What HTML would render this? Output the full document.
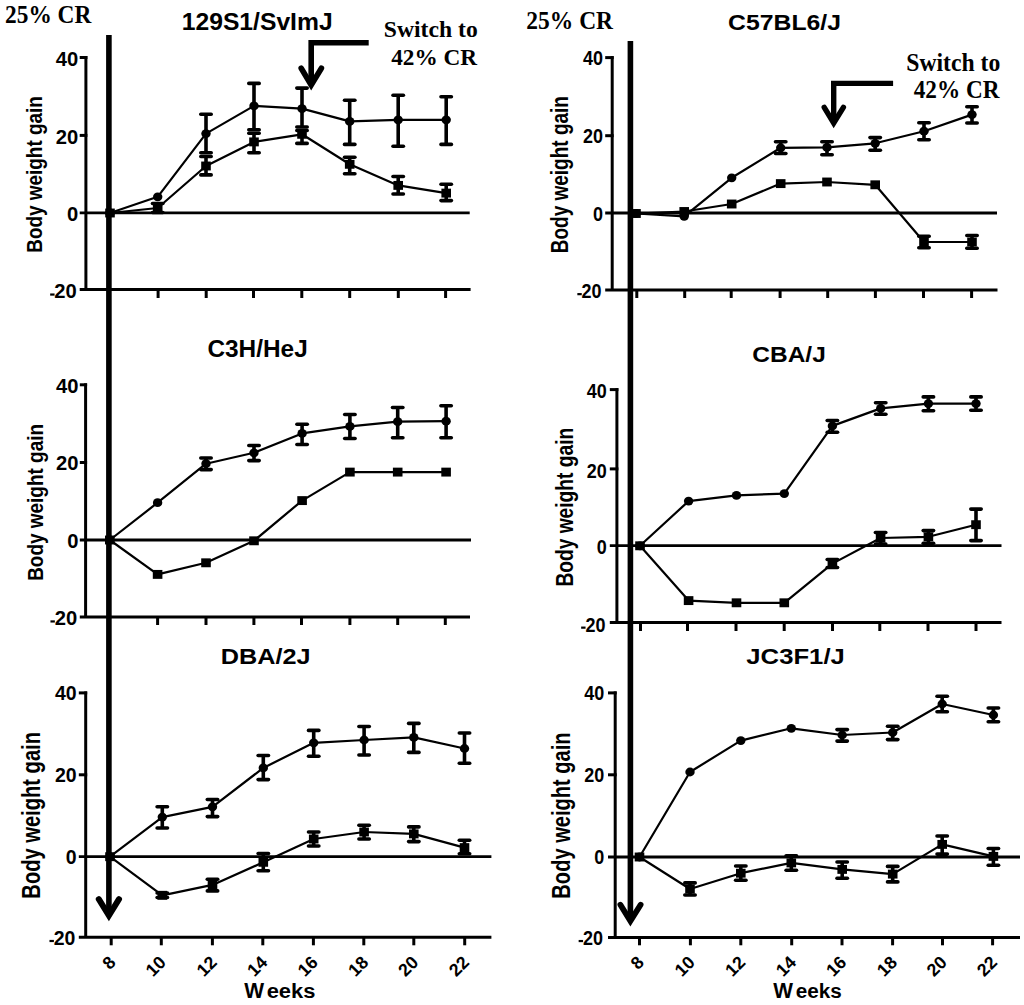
<!DOCTYPE html><html><head><meta charset="utf-8"><style>html,body{margin:0;padding:0;background:#fff;width:1024px;height:1005px;overflow:hidden}svg{display:block}text{font-size:100px;font-weight:bold;fill:#000;font-kerning:none;letter-spacing:0}.S{font-family:"Liberation Sans",sans-serif}.R{font-family:"Liberation Serif",serif}line,polyline,path{stroke:#000;fill:none}</style></head><body>
<svg width="1024" height="1005" viewBox="0 0 1024 1005">
<rect width="1024" height="1005" fill="#fff"/>
<line x1="85.9" y1="56" x2="85.9" y2="289.5" stroke-width="3"/>
<line x1="79.7" y1="57.5" x2="87.4" y2="57.5" stroke-width="3"/>
<line x1="79.7" y1="135.4" x2="87.4" y2="135.4" stroke-width="3"/>
<line x1="79.7" y1="212.9" x2="469.7" y2="212.9" stroke-width="2.8"/>
<line x1="79.7" y1="289.5" x2="470.6" y2="289.5" stroke-width="3"/>
<line x1="158.1" y1="289.5" x2="158.1" y2="298" stroke-width="3"/>
<line x1="206.2" y1="289.5" x2="206.2" y2="298" stroke-width="3"/>
<line x1="253.5" y1="289.5" x2="253.5" y2="298" stroke-width="3"/>
<line x1="301.8" y1="289.5" x2="301.8" y2="298" stroke-width="3"/>
<line x1="349.7" y1="289.5" x2="349.7" y2="298" stroke-width="3"/>
<line x1="398.3" y1="289.5" x2="398.3" y2="298" stroke-width="3"/>
<line x1="445.6" y1="289.5" x2="445.6" y2="298" stroke-width="3"/>
<text class="S" transform="translate(55.66 66.05) scale(0.2020 0.2020)">40</text>
<text class="S" transform="translate(55.66 143.95) scale(0.2020 0.2020)">20</text>
<text class="S" transform="translate(66.9 221.45) scale(0.2020 0.2020)">0</text>
<text class="S" transform="translate(54.36 298.45) scale(0.2020 0.2020)">20</text>
<rect x="50.16" y="293.45" width="4.4" height="2.2"/>
<polyline points="110,213 157.7,196.8 206,133.6 254,105.9 302,108.6 349.7,121.4 398.2,119.8 446.2,119.8" stroke-width="2.2" stroke-linejoin="round"/>
<polyline points="110,213 157.7,208 206,166 254,141.9 302,134.3 349.7,164.3 398.2,185.4 446.2,193.1" stroke-width="2.2" stroke-linejoin="round"/>
<line x1="206" y1="114.2" x2="206" y2="152.7" stroke-width="3.6"/>
<line x1="200.8" y1="114.2" x2="211.2" y2="114.2" stroke-width="3.6" stroke-linecap="round"/>
<line x1="200.8" y1="152.7" x2="211.2" y2="152.7" stroke-width="3.6" stroke-linecap="round"/>
<line x1="254" y1="83.4" x2="254" y2="129.8" stroke-width="3.6"/>
<line x1="248.8" y1="83.4" x2="259.2" y2="83.4" stroke-width="3.6" stroke-linecap="round"/>
<line x1="248.8" y1="129.8" x2="259.2" y2="129.8" stroke-width="3.6" stroke-linecap="round"/>
<line x1="302" y1="88.1" x2="302" y2="127" stroke-width="3.6"/>
<line x1="296.8" y1="88.1" x2="307.2" y2="88.1" stroke-width="3.6" stroke-linecap="round"/>
<line x1="296.8" y1="127" x2="307.2" y2="127" stroke-width="3.6" stroke-linecap="round"/>
<line x1="349.7" y1="100.3" x2="349.7" y2="144.4" stroke-width="3.6"/>
<line x1="344.5" y1="100.3" x2="354.9" y2="100.3" stroke-width="3.6" stroke-linecap="round"/>
<line x1="344.5" y1="144.4" x2="354.9" y2="144.4" stroke-width="3.6" stroke-linecap="round"/>
<line x1="398.2" y1="95.2" x2="398.2" y2="146.2" stroke-width="3.6"/>
<line x1="393" y1="95.2" x2="403.4" y2="95.2" stroke-width="3.6" stroke-linecap="round"/>
<line x1="393" y1="146.2" x2="403.4" y2="146.2" stroke-width="3.6" stroke-linecap="round"/>
<line x1="446.2" y1="96.8" x2="446.2" y2="144.4" stroke-width="3.6"/>
<line x1="441" y1="96.8" x2="451.4" y2="96.8" stroke-width="3.6" stroke-linecap="round"/>
<line x1="441" y1="144.4" x2="451.4" y2="144.4" stroke-width="3.6" stroke-linecap="round"/>
<line x1="157.7" y1="203.5" x2="157.7" y2="212.5" stroke-width="3.6"/>
<line x1="152.5" y1="203.5" x2="162.9" y2="203.5" stroke-width="3.6" stroke-linecap="round"/>
<line x1="152.5" y1="212.5" x2="162.9" y2="212.5" stroke-width="3.6" stroke-linecap="round"/>
<line x1="206" y1="156.5" x2="206" y2="174.9" stroke-width="3.6"/>
<line x1="200.8" y1="156.5" x2="211.2" y2="156.5" stroke-width="3.6" stroke-linecap="round"/>
<line x1="200.8" y1="174.9" x2="211.2" y2="174.9" stroke-width="3.6" stroke-linecap="round"/>
<line x1="254" y1="133.3" x2="254" y2="152.7" stroke-width="3.6"/>
<line x1="248.8" y1="133.3" x2="259.2" y2="133.3" stroke-width="3.6" stroke-linecap="round"/>
<line x1="248.8" y1="152.7" x2="259.2" y2="152.7" stroke-width="3.6" stroke-linecap="round"/>
<line x1="302" y1="130.5" x2="302" y2="143.4" stroke-width="3.6"/>
<line x1="296.8" y1="130.5" x2="307.2" y2="130.5" stroke-width="3.6" stroke-linecap="round"/>
<line x1="296.8" y1="143.4" x2="307.2" y2="143.4" stroke-width="3.6" stroke-linecap="round"/>
<line x1="349.7" y1="157.3" x2="349.7" y2="173.7" stroke-width="3.6"/>
<line x1="344.5" y1="157.3" x2="354.9" y2="157.3" stroke-width="3.6" stroke-linecap="round"/>
<line x1="344.5" y1="173.7" x2="354.9" y2="173.7" stroke-width="3.6" stroke-linecap="round"/>
<line x1="398.2" y1="176.5" x2="398.2" y2="194" stroke-width="3.6"/>
<line x1="393" y1="176.5" x2="403.4" y2="176.5" stroke-width="3.6" stroke-linecap="round"/>
<line x1="393" y1="194" x2="403.4" y2="194" stroke-width="3.6" stroke-linecap="round"/>
<line x1="446.2" y1="184.2" x2="446.2" y2="200.6" stroke-width="3.6"/>
<line x1="441" y1="184.2" x2="451.4" y2="184.2" stroke-width="3.6" stroke-linecap="round"/>
<line x1="441" y1="200.6" x2="451.4" y2="200.6" stroke-width="3.6" stroke-linecap="round"/>
<ellipse cx="110" cy="213" rx="4.7" ry="4.4"/>
<ellipse cx="157.7" cy="196.8" rx="4.7" ry="4.4"/>
<ellipse cx="206" cy="133.6" rx="4.7" ry="4.4"/>
<ellipse cx="254" cy="105.9" rx="4.7" ry="4.4"/>
<ellipse cx="302" cy="108.6" rx="4.7" ry="4.4"/>
<ellipse cx="349.7" cy="121.4" rx="4.7" ry="4.4"/>
<ellipse cx="398.2" cy="119.8" rx="4.7" ry="4.4"/>
<ellipse cx="446.2" cy="119.8" rx="4.7" ry="4.4"/>
<rect x="105.2" y="208.55" width="9.6" height="8.9"/>
<rect x="152.9" y="203.55" width="9.6" height="8.9"/>
<rect x="201.2" y="161.55" width="9.6" height="8.9"/>
<rect x="249.2" y="137.45" width="9.6" height="8.9"/>
<rect x="297.2" y="129.85" width="9.6" height="8.9"/>
<rect x="344.9" y="159.85" width="9.6" height="8.9"/>
<rect x="393.4" y="180.95" width="9.6" height="8.9"/>
<rect x="441.4" y="188.65" width="9.6" height="8.9"/>
<text class="S" transform="translate(181.75 30.21) scale(0.2468 0.2444)">129S1/SvImJ</text>
<text class="S" transform="translate(42.2 252.77) rotate(-90) scale(0.1894 0.2224)">Body weight gain</text>
<line x1="85.6" y1="383.3" x2="85.6" y2="617" stroke-width="3"/>
<line x1="79.8" y1="384.8" x2="87.1" y2="384.8" stroke-width="3"/>
<line x1="79.8" y1="462.5" x2="87.1" y2="462.5" stroke-width="3"/>
<line x1="79.8" y1="540" x2="471" y2="540" stroke-width="2.8"/>
<line x1="79.8" y1="617" x2="470" y2="617" stroke-width="3"/>
<line x1="157.6" y1="617" x2="157.6" y2="625" stroke-width="3"/>
<line x1="206" y1="617" x2="206" y2="625" stroke-width="3"/>
<line x1="253.9" y1="617" x2="253.9" y2="625" stroke-width="3"/>
<line x1="301.5" y1="617" x2="301.5" y2="625" stroke-width="3"/>
<line x1="349.9" y1="617" x2="349.9" y2="625" stroke-width="3"/>
<line x1="397.7" y1="617" x2="397.7" y2="625" stroke-width="3"/>
<line x1="445.3" y1="617" x2="445.3" y2="625" stroke-width="3"/>
<text class="S" transform="translate(55.96 392.75) scale(0.2020 0.2020)">40</text>
<text class="S" transform="translate(55.96 470.45) scale(0.2020 0.2020)">20</text>
<text class="S" transform="translate(67.2 547.95) scale(0.2020 0.2020)">0</text>
<text class="S" transform="translate(54.66 625.35) scale(0.2020 0.2020)">20</text>
<rect x="50.46" y="620.35" width="4.4" height="2.2"/>
<polyline points="109.8,540 157.6,502.7 206,463.7 254,452.8 302.1,433.4 349.9,426.4 397.7,421.7 446.1,421.2" stroke-width="2.2" stroke-linejoin="round"/>
<polyline points="109.8,540 157.6,574.4 206,562.8 254,540.8 302.1,500.6 349.9,472.1 397.7,472.1 446.1,472.1" stroke-width="2.2" stroke-linejoin="round"/>
<line x1="206" y1="458" x2="206" y2="469.6" stroke-width="3.6"/>
<line x1="200.8" y1="458" x2="211.2" y2="458" stroke-width="3.6" stroke-linecap="round"/>
<line x1="200.8" y1="469.6" x2="211.2" y2="469.6" stroke-width="3.6" stroke-linecap="round"/>
<line x1="254" y1="445.5" x2="254" y2="460.6" stroke-width="3.6"/>
<line x1="248.8" y1="445.5" x2="259.2" y2="445.5" stroke-width="3.6" stroke-linecap="round"/>
<line x1="248.8" y1="460.6" x2="259.2" y2="460.6" stroke-width="3.6" stroke-linecap="round"/>
<line x1="302.1" y1="424.3" x2="302.1" y2="444.5" stroke-width="3.6"/>
<line x1="296.9" y1="424.3" x2="307.3" y2="424.3" stroke-width="3.6" stroke-linecap="round"/>
<line x1="296.9" y1="444.5" x2="307.3" y2="444.5" stroke-width="3.6" stroke-linecap="round"/>
<line x1="349.9" y1="414.5" x2="349.9" y2="438.5" stroke-width="3.6"/>
<line x1="344.7" y1="414.5" x2="355.1" y2="414.5" stroke-width="3.6" stroke-linecap="round"/>
<line x1="344.7" y1="438.5" x2="355.1" y2="438.5" stroke-width="3.6" stroke-linecap="round"/>
<line x1="397.7" y1="407.5" x2="397.7" y2="437.8" stroke-width="3.6"/>
<line x1="392.5" y1="407.5" x2="402.9" y2="407.5" stroke-width="3.6" stroke-linecap="round"/>
<line x1="392.5" y1="437.8" x2="402.9" y2="437.8" stroke-width="3.6" stroke-linecap="round"/>
<line x1="446.1" y1="405.7" x2="446.1" y2="437.8" stroke-width="3.6"/>
<line x1="440.9" y1="405.7" x2="451.3" y2="405.7" stroke-width="3.6" stroke-linecap="round"/>
<line x1="440.9" y1="437.8" x2="451.3" y2="437.8" stroke-width="3.6" stroke-linecap="round"/>
<ellipse cx="109.8" cy="540" rx="4.7" ry="4.4"/>
<ellipse cx="157.6" cy="502.7" rx="4.7" ry="4.4"/>
<ellipse cx="206" cy="463.7" rx="4.7" ry="4.4"/>
<ellipse cx="254" cy="452.8" rx="4.7" ry="4.4"/>
<ellipse cx="302.1" cy="433.4" rx="4.7" ry="4.4"/>
<ellipse cx="349.9" cy="426.4" rx="4.7" ry="4.4"/>
<ellipse cx="397.7" cy="421.7" rx="4.7" ry="4.4"/>
<ellipse cx="446.1" cy="421.2" rx="4.7" ry="4.4"/>
<rect x="105" y="535.55" width="9.6" height="8.9"/>
<rect x="152.8" y="569.95" width="9.6" height="8.9"/>
<rect x="201.2" y="558.35" width="9.6" height="8.9"/>
<rect x="249.2" y="536.35" width="9.6" height="8.9"/>
<rect x="297.3" y="496.15" width="9.6" height="8.9"/>
<rect x="345.1" y="467.65" width="9.6" height="8.9"/>
<rect x="392.9" y="467.65" width="9.6" height="8.9"/>
<rect x="441.3" y="467.65" width="9.6" height="8.9"/>
<text class="S" transform="translate(207.4 357.04) scale(0.2440 0.2310)">C3H/HeJ</text>
<text class="S" transform="translate(42.9 580.87) rotate(-90) scale(0.1898 0.2297)">Body weight gain</text>
<line x1="85.7" y1="691.4" x2="85.7" y2="937.3" stroke-width="3"/>
<line x1="78.8" y1="692.9" x2="87.2" y2="692.9" stroke-width="3"/>
<line x1="78.8" y1="774.8" x2="87.2" y2="774.8" stroke-width="3"/>
<line x1="78.8" y1="856.7" x2="491.4" y2="856.7" stroke-width="2.8"/>
<line x1="78.8" y1="937.3" x2="491.4" y2="937.3" stroke-width="3"/>
<line x1="111.2" y1="937.3" x2="111.2" y2="945.3" stroke-width="3"/>
<line x1="161.3" y1="937.3" x2="161.3" y2="945.3" stroke-width="3"/>
<line x1="212.4" y1="937.3" x2="212.4" y2="945.3" stroke-width="3"/>
<line x1="262.8" y1="937.3" x2="262.8" y2="945.3" stroke-width="3"/>
<line x1="313.4" y1="937.3" x2="313.4" y2="945.3" stroke-width="3"/>
<line x1="363.8" y1="937.3" x2="363.8" y2="945.3" stroke-width="3"/>
<line x1="413.8" y1="937.3" x2="413.8" y2="945.3" stroke-width="3"/>
<line x1="464.7" y1="937.3" x2="464.7" y2="945.3" stroke-width="3"/>
<text class="S" transform="translate(55.02 700.11) scale(0.1949 0.1949)">40</text>
<text class="S" transform="translate(55.02 782.01) scale(0.1949 0.1949)">20</text>
<text class="S" transform="translate(65.86 863.91) scale(0.1949 0.1949)">0</text>
<text class="S" transform="translate(53.72 944.91) scale(0.1949 0.1949)">20</text>
<rect x="49.49" y="939.9" width="4.4" height="2.2"/>
<polyline points="110,856.7 162.3,817.1 212.5,806.8 263.3,767.9 313.7,742.8 364.1,740 413.8,737.4 464.5,748.5" stroke-width="2.2" stroke-linejoin="round"/>
<polyline points="110,856.7 162.3,895.3 212.5,884.9 263.3,862.3 313.7,839 364.1,832 413.8,833.9 464.5,847.6" stroke-width="2.2" stroke-linejoin="round"/>
<line x1="162.3" y1="806.8" x2="162.3" y2="828" stroke-width="3.6"/>
<line x1="157.1" y1="806.8" x2="167.5" y2="806.8" stroke-width="3.6" stroke-linecap="round"/>
<line x1="157.1" y1="828" x2="167.5" y2="828" stroke-width="3.6" stroke-linecap="round"/>
<line x1="212.5" y1="799.5" x2="212.5" y2="816.6" stroke-width="3.6"/>
<line x1="207.3" y1="799.5" x2="217.7" y2="799.5" stroke-width="3.6" stroke-linecap="round"/>
<line x1="207.3" y1="816.6" x2="217.7" y2="816.6" stroke-width="3.6" stroke-linecap="round"/>
<line x1="263.3" y1="755.5" x2="263.3" y2="779.6" stroke-width="3.6"/>
<line x1="258.1" y1="755.5" x2="268.5" y2="755.5" stroke-width="3.6" stroke-linecap="round"/>
<line x1="258.1" y1="779.6" x2="268.5" y2="779.6" stroke-width="3.6" stroke-linecap="round"/>
<line x1="313.7" y1="730.4" x2="313.7" y2="756.3" stroke-width="3.6"/>
<line x1="308.5" y1="730.4" x2="318.9" y2="730.4" stroke-width="3.6" stroke-linecap="round"/>
<line x1="308.5" y1="756.3" x2="318.9" y2="756.3" stroke-width="3.6" stroke-linecap="round"/>
<line x1="364.1" y1="726.5" x2="364.1" y2="755" stroke-width="3.6"/>
<line x1="358.9" y1="726.5" x2="369.3" y2="726.5" stroke-width="3.6" stroke-linecap="round"/>
<line x1="358.9" y1="755" x2="369.3" y2="755" stroke-width="3.6" stroke-linecap="round"/>
<line x1="413.8" y1="723.4" x2="413.8" y2="752.4" stroke-width="3.6"/>
<line x1="408.6" y1="723.4" x2="419" y2="723.4" stroke-width="3.6" stroke-linecap="round"/>
<line x1="408.6" y1="752.4" x2="419" y2="752.4" stroke-width="3.6" stroke-linecap="round"/>
<line x1="464.5" y1="733" x2="464.5" y2="763.3" stroke-width="3.6"/>
<line x1="459.3" y1="733" x2="469.7" y2="733" stroke-width="3.6" stroke-linecap="round"/>
<line x1="459.3" y1="763.3" x2="469.7" y2="763.3" stroke-width="3.6" stroke-linecap="round"/>
<line x1="162.3" y1="893" x2="162.3" y2="897.5" stroke-width="3.6"/>
<line x1="157.1" y1="893" x2="167.5" y2="893" stroke-width="3.6" stroke-linecap="round"/>
<line x1="157.1" y1="897.5" x2="167.5" y2="897.5" stroke-width="3.6" stroke-linecap="round"/>
<line x1="212.5" y1="879.2" x2="212.5" y2="890.9" stroke-width="3.6"/>
<line x1="207.3" y1="879.2" x2="217.7" y2="879.2" stroke-width="3.6" stroke-linecap="round"/>
<line x1="207.3" y1="890.9" x2="217.7" y2="890.9" stroke-width="3.6" stroke-linecap="round"/>
<line x1="263.3" y1="853.5" x2="263.3" y2="870.8" stroke-width="3.6"/>
<line x1="258.1" y1="853.5" x2="268.5" y2="853.5" stroke-width="3.6" stroke-linecap="round"/>
<line x1="258.1" y1="870.8" x2="268.5" y2="870.8" stroke-width="3.6" stroke-linecap="round"/>
<line x1="313.7" y1="832" x2="313.7" y2="846" stroke-width="3.6"/>
<line x1="308.5" y1="832" x2="318.9" y2="832" stroke-width="3.6" stroke-linecap="round"/>
<line x1="308.5" y1="846" x2="318.9" y2="846" stroke-width="3.6" stroke-linecap="round"/>
<line x1="364.1" y1="825.3" x2="364.1" y2="839" stroke-width="3.6"/>
<line x1="358.9" y1="825.3" x2="369.3" y2="825.3" stroke-width="3.6" stroke-linecap="round"/>
<line x1="358.9" y1="839" x2="369.3" y2="839" stroke-width="3.6" stroke-linecap="round"/>
<line x1="413.8" y1="826.9" x2="413.8" y2="841.6" stroke-width="3.6"/>
<line x1="408.6" y1="826.9" x2="419" y2="826.9" stroke-width="3.6" stroke-linecap="round"/>
<line x1="408.6" y1="841.6" x2="419" y2="841.6" stroke-width="3.6" stroke-linecap="round"/>
<line x1="464.5" y1="840.3" x2="464.5" y2="853.8" stroke-width="3.6"/>
<line x1="459.3" y1="840.3" x2="469.7" y2="840.3" stroke-width="3.6" stroke-linecap="round"/>
<line x1="459.3" y1="853.8" x2="469.7" y2="853.8" stroke-width="3.6" stroke-linecap="round"/>
<ellipse cx="110" cy="856.7" rx="4.7" ry="4.4"/>
<ellipse cx="162.3" cy="817.1" rx="4.7" ry="4.4"/>
<ellipse cx="212.5" cy="806.8" rx="4.7" ry="4.4"/>
<ellipse cx="263.3" cy="767.9" rx="4.7" ry="4.4"/>
<ellipse cx="313.7" cy="742.8" rx="4.7" ry="4.4"/>
<ellipse cx="364.1" cy="740" rx="4.7" ry="4.4"/>
<ellipse cx="413.8" cy="737.4" rx="4.7" ry="4.4"/>
<ellipse cx="464.5" cy="748.5" rx="4.7" ry="4.4"/>
<rect x="105.2" y="852.25" width="9.6" height="8.9"/>
<rect x="157.5" y="890.85" width="9.6" height="8.9"/>
<rect x="207.7" y="880.45" width="9.6" height="8.9"/>
<rect x="258.5" y="857.85" width="9.6" height="8.9"/>
<rect x="308.9" y="834.55" width="9.6" height="8.9"/>
<rect x="359.3" y="827.55" width="9.6" height="8.9"/>
<rect x="409" y="829.45" width="9.6" height="8.9"/>
<rect x="459.7" y="843.15" width="9.6" height="8.9"/>
<text class="S" transform="translate(220.71 663.65) scale(0.2525 0.2270)">DBA/2J</text>
<text class="S" transform="translate(40.4 898.65) rotate(-90) scale(0.2014 0.2573)">Body weight gain</text>
<line x1="612.2" y1="56.1" x2="612.2" y2="290" stroke-width="3"/>
<line x1="605.2" y1="57.6" x2="613.7" y2="57.6" stroke-width="3"/>
<line x1="605.2" y1="135.7" x2="613.7" y2="135.7" stroke-width="3"/>
<line x1="605.2" y1="213" x2="997" y2="213" stroke-width="2.8"/>
<line x1="605.2" y1="290" x2="997.5" y2="290" stroke-width="3"/>
<line x1="636.8" y1="290" x2="636.8" y2="298" stroke-width="3"/>
<line x1="684.7" y1="290" x2="684.7" y2="298" stroke-width="3"/>
<line x1="731.2" y1="290" x2="731.2" y2="298" stroke-width="3"/>
<line x1="780.1" y1="290" x2="780.1" y2="298" stroke-width="3"/>
<line x1="827.7" y1="290" x2="827.7" y2="298" stroke-width="3"/>
<line x1="875.4" y1="290" x2="875.4" y2="298" stroke-width="3"/>
<line x1="923.5" y1="290" x2="923.5" y2="298" stroke-width="3"/>
<line x1="971.6" y1="290" x2="971.6" y2="298" stroke-width="3"/>
<text class="S" transform="translate(582.92 65.26) scale(0.1800 0.1935)">40</text>
<text class="S" transform="translate(582.92 143.36) scale(0.1800 0.1935)">20</text>
<text class="S" transform="translate(592.93 220.66) scale(0.1800 0.1935)">0</text>
<text class="S" transform="translate(581.62 298.06) scale(0.1800 0.1935)">20</text>
<rect x="577.35" y="293.05" width="4.4" height="2.2"/>
<polyline points="636,213.5 684.2,216.3 731.7,177.8 780.7,147.8 827,147.4 875.2,143.3 924,131.2 972,114.6" stroke-width="2.2" stroke-linejoin="round"/>
<polyline points="636,213.5 684.2,211.5 731.7,204 780.7,183.6 827,182 875.2,184.8 924,242 972,242" stroke-width="2.2" stroke-linejoin="round"/>
<line x1="780.7" y1="141.8" x2="780.7" y2="153.5" stroke-width="3.6"/>
<line x1="775.5" y1="141.8" x2="785.9" y2="141.8" stroke-width="3.6" stroke-linecap="round"/>
<line x1="775.5" y1="153.5" x2="785.9" y2="153.5" stroke-width="3.6" stroke-linecap="round"/>
<line x1="827" y1="141.8" x2="827" y2="154.7" stroke-width="3.6"/>
<line x1="821.8" y1="141.8" x2="832.2" y2="141.8" stroke-width="3.6" stroke-linecap="round"/>
<line x1="821.8" y1="154.7" x2="832.2" y2="154.7" stroke-width="3.6" stroke-linecap="round"/>
<line x1="875.2" y1="137.6" x2="875.2" y2="150.2" stroke-width="3.6"/>
<line x1="870" y1="137.6" x2="880.4" y2="137.6" stroke-width="3.6" stroke-linecap="round"/>
<line x1="870" y1="150.2" x2="880.4" y2="150.2" stroke-width="3.6" stroke-linecap="round"/>
<line x1="924" y1="122.7" x2="924" y2="139.8" stroke-width="3.6"/>
<line x1="918.8" y1="122.7" x2="929.2" y2="122.7" stroke-width="3.6" stroke-linecap="round"/>
<line x1="918.8" y1="139.8" x2="929.2" y2="139.8" stroke-width="3.6" stroke-linecap="round"/>
<line x1="972" y1="106.7" x2="972" y2="123" stroke-width="3.6"/>
<line x1="966.8" y1="106.7" x2="977.2" y2="106.7" stroke-width="3.6" stroke-linecap="round"/>
<line x1="966.8" y1="123" x2="977.2" y2="123" stroke-width="3.6" stroke-linecap="round"/>
<line x1="924" y1="236.3" x2="924" y2="247.7" stroke-width="3.6"/>
<line x1="918.8" y1="236.3" x2="929.2" y2="236.3" stroke-width="3.6" stroke-linecap="round"/>
<line x1="918.8" y1="247.7" x2="929.2" y2="247.7" stroke-width="3.6" stroke-linecap="round"/>
<line x1="972" y1="235.5" x2="972" y2="248.3" stroke-width="3.6"/>
<line x1="966.8" y1="235.5" x2="977.2" y2="235.5" stroke-width="3.6" stroke-linecap="round"/>
<line x1="966.8" y1="248.3" x2="977.2" y2="248.3" stroke-width="3.6" stroke-linecap="round"/>
<ellipse cx="636" cy="213.5" rx="4.7" ry="4.4"/>
<ellipse cx="684.2" cy="216.3" rx="4.7" ry="4.4"/>
<ellipse cx="731.7" cy="177.8" rx="4.7" ry="4.4"/>
<ellipse cx="780.7" cy="147.8" rx="4.7" ry="4.4"/>
<ellipse cx="827" cy="147.4" rx="4.7" ry="4.4"/>
<ellipse cx="875.2" cy="143.3" rx="4.7" ry="4.4"/>
<ellipse cx="924" cy="131.2" rx="4.7" ry="4.4"/>
<ellipse cx="972" cy="114.6" rx="4.7" ry="4.4"/>
<rect x="631.2" y="209.05" width="9.6" height="8.9"/>
<rect x="679.4" y="207.05" width="9.6" height="8.9"/>
<rect x="726.9" y="199.55" width="9.6" height="8.9"/>
<rect x="775.9" y="179.15" width="9.6" height="8.9"/>
<rect x="822.2" y="177.55" width="9.6" height="8.9"/>
<rect x="870.4" y="180.35" width="9.6" height="8.9"/>
<rect x="919.2" y="237.55" width="9.6" height="8.9"/>
<rect x="967.2" y="237.55" width="9.6" height="8.9"/>
<text class="S" transform="translate(728.08 29.94) scale(0.2477 0.2296)">C57BL6/J</text>
<text class="S" transform="translate(568.4 253.27) rotate(-90) scale(0.1900 0.2384)">Body weight gain</text>
<line x1="616.9" y1="388.1" x2="616.9" y2="622.5" stroke-width="3"/>
<line x1="609.8" y1="389.6" x2="618.4" y2="389.6" stroke-width="3"/>
<line x1="609.8" y1="468.9" x2="618.4" y2="468.9" stroke-width="3"/>
<line x1="609.8" y1="545.7" x2="1001.5" y2="545.7" stroke-width="2.8"/>
<line x1="609.8" y1="622.5" x2="1001.5" y2="622.5" stroke-width="3"/>
<line x1="640.5" y1="622.5" x2="640.5" y2="631" stroke-width="3"/>
<line x1="687.5" y1="622.5" x2="687.5" y2="631" stroke-width="3"/>
<line x1="736" y1="622.5" x2="736" y2="631" stroke-width="3"/>
<line x1="784.2" y1="622.5" x2="784.2" y2="631" stroke-width="3"/>
<line x1="832.5" y1="622.5" x2="832.5" y2="631" stroke-width="3"/>
<line x1="879.8" y1="622.5" x2="879.8" y2="631" stroke-width="3"/>
<line x1="928" y1="622.5" x2="928" y2="631" stroke-width="3"/>
<line x1="976" y1="622.5" x2="976" y2="631" stroke-width="3"/>
<text class="S" transform="translate(586.72 398.26) scale(0.1800 0.1935)">40</text>
<text class="S" transform="translate(586.72 477.56) scale(0.1800 0.1935)">20</text>
<text class="S" transform="translate(596.73 554.36) scale(0.1800 0.1935)">0</text>
<text class="S" transform="translate(585.42 631.56) scale(0.1800 0.1935)">20</text>
<rect x="581.15" y="626.55" width="4.4" height="2.2"/>
<polyline points="640,545.8 688.6,501.1 736.5,495.4 784.3,493.6 832.4,425.9 880.7,408.4 928.4,403.6 976,403.6" stroke-width="2.2" stroke-linejoin="round"/>
<polyline points="640,545.8 688.6,600.6 736.5,602.8 784.3,602.8 832.4,563.6 880.6,538 928.4,536.8 976,524.7" stroke-width="2.2" stroke-linejoin="round"/>
<line x1="832.4" y1="420.5" x2="832.4" y2="432.3" stroke-width="3.6"/>
<line x1="827.2" y1="420.5" x2="837.6" y2="420.5" stroke-width="3.6" stroke-linecap="round"/>
<line x1="827.2" y1="432.3" x2="837.6" y2="432.3" stroke-width="3.6" stroke-linecap="round"/>
<line x1="880.7" y1="402.8" x2="880.7" y2="414.3" stroke-width="3.6"/>
<line x1="875.5" y1="402.8" x2="885.9" y2="402.8" stroke-width="3.6" stroke-linecap="round"/>
<line x1="875.5" y1="414.3" x2="885.9" y2="414.3" stroke-width="3.6" stroke-linecap="round"/>
<line x1="928.4" y1="396.9" x2="928.4" y2="410.8" stroke-width="3.6"/>
<line x1="923.2" y1="396.9" x2="933.6" y2="396.9" stroke-width="3.6" stroke-linecap="round"/>
<line x1="923.2" y1="410.8" x2="933.6" y2="410.8" stroke-width="3.6" stroke-linecap="round"/>
<line x1="976" y1="396.9" x2="976" y2="410.3" stroke-width="3.6"/>
<line x1="970.8" y1="396.9" x2="981.2" y2="396.9" stroke-width="3.6" stroke-linecap="round"/>
<line x1="970.8" y1="410.3" x2="981.2" y2="410.3" stroke-width="3.6" stroke-linecap="round"/>
<line x1="832.4" y1="559.5" x2="832.4" y2="567.5" stroke-width="3.6"/>
<line x1="827.2" y1="559.5" x2="837.6" y2="559.5" stroke-width="3.6" stroke-linecap="round"/>
<line x1="827.2" y1="567.5" x2="837.6" y2="567.5" stroke-width="3.6" stroke-linecap="round"/>
<line x1="880.6" y1="532.5" x2="880.6" y2="544" stroke-width="3.6"/>
<line x1="875.4" y1="532.5" x2="885.8" y2="532.5" stroke-width="3.6" stroke-linecap="round"/>
<line x1="875.4" y1="544" x2="885.8" y2="544" stroke-width="3.6" stroke-linecap="round"/>
<line x1="928.4" y1="530.6" x2="928.4" y2="543.3" stroke-width="3.6"/>
<line x1="923.2" y1="530.6" x2="933.6" y2="530.6" stroke-width="3.6" stroke-linecap="round"/>
<line x1="923.2" y1="543.3" x2="933.6" y2="543.3" stroke-width="3.6" stroke-linecap="round"/>
<line x1="976" y1="509.1" x2="976" y2="540.6" stroke-width="3.6"/>
<line x1="970.8" y1="509.1" x2="981.2" y2="509.1" stroke-width="3.6" stroke-linecap="round"/>
<line x1="970.8" y1="540.6" x2="981.2" y2="540.6" stroke-width="3.6" stroke-linecap="round"/>
<ellipse cx="640" cy="545.8" rx="4.7" ry="4.4"/>
<ellipse cx="688.6" cy="501.1" rx="4.7" ry="4.4"/>
<ellipse cx="736.5" cy="495.4" rx="4.7" ry="4.4"/>
<ellipse cx="784.3" cy="493.6" rx="4.7" ry="4.4"/>
<ellipse cx="832.4" cy="425.9" rx="4.7" ry="4.4"/>
<ellipse cx="880.7" cy="408.4" rx="4.7" ry="4.4"/>
<ellipse cx="928.4" cy="403.6" rx="4.7" ry="4.4"/>
<ellipse cx="976" cy="403.6" rx="4.7" ry="4.4"/>
<rect x="635.2" y="541.35" width="9.6" height="8.9"/>
<rect x="683.8" y="596.15" width="9.6" height="8.9"/>
<rect x="731.7" y="598.35" width="9.6" height="8.9"/>
<rect x="779.5" y="598.35" width="9.6" height="8.9"/>
<rect x="827.6" y="559.15" width="9.6" height="8.9"/>
<rect x="875.8" y="533.55" width="9.6" height="8.9"/>
<rect x="923.6" y="532.35" width="9.6" height="8.9"/>
<rect x="971.2" y="520.25" width="9.6" height="8.9"/>
<text class="S" transform="translate(752.3 362.15) scale(0.2449 0.2243)">CBA/J</text>
<text class="S" transform="translate(572.7 586.58) rotate(-90) scale(0.1919 0.2355)">Body weight gain</text>
<line x1="615.2" y1="691.4" x2="615.2" y2="937.4" stroke-width="3"/>
<line x1="608" y1="692.9" x2="616.7" y2="692.9" stroke-width="3"/>
<line x1="608" y1="774.8" x2="616.7" y2="774.8" stroke-width="3"/>
<line x1="608" y1="857" x2="1020" y2="857" stroke-width="2.8"/>
<line x1="608" y1="937.4" x2="1020" y2="937.4" stroke-width="3"/>
<line x1="639.5" y1="937.4" x2="639.5" y2="945.3" stroke-width="3"/>
<line x1="690.4" y1="937.4" x2="690.4" y2="945.3" stroke-width="3"/>
<line x1="740.8" y1="937.4" x2="740.8" y2="945.3" stroke-width="3"/>
<line x1="791.7" y1="937.4" x2="791.7" y2="945.3" stroke-width="3"/>
<line x1="842" y1="937.4" x2="842" y2="945.3" stroke-width="3"/>
<line x1="892.6" y1="937.4" x2="892.6" y2="945.3" stroke-width="3"/>
<line x1="942.5" y1="937.4" x2="942.5" y2="945.3" stroke-width="3"/>
<line x1="992.6" y1="937.4" x2="992.6" y2="945.3" stroke-width="3"/>
<text class="S" transform="translate(584.22 700.06) scale(0.1800 0.1935)">40</text>
<text class="S" transform="translate(584.22 781.96) scale(0.1800 0.1935)">20</text>
<text class="S" transform="translate(594.23 864.16) scale(0.1800 0.1935)">0</text>
<text class="S" transform="translate(582.92 944.96) scale(0.1800 0.1935)">20</text>
<rect x="578.65" y="939.95" width="4.4" height="2.2"/>
<polyline points="639.5,857 690,772 740.8,740.6 791.3,728.3 842.2,735 892.7,732.5 942.2,704 993.4,715" stroke-width="2.2" stroke-linejoin="round"/>
<polyline points="639.5,857 690,889 740.8,873.2 791.3,862.9 842.2,869.4 892.7,874.1 942.2,844.4 993.4,856.4" stroke-width="2.2" stroke-linejoin="round"/>
<line x1="842.2" y1="729.6" x2="842.2" y2="741.1" stroke-width="3.6"/>
<line x1="837" y1="729.6" x2="847.4" y2="729.6" stroke-width="3.6" stroke-linecap="round"/>
<line x1="837" y1="741.1" x2="847.4" y2="741.1" stroke-width="3.6" stroke-linecap="round"/>
<line x1="892.7" y1="726.3" x2="892.7" y2="739.6" stroke-width="3.6"/>
<line x1="887.5" y1="726.3" x2="897.9" y2="726.3" stroke-width="3.6" stroke-linecap="round"/>
<line x1="887.5" y1="739.6" x2="897.9" y2="739.6" stroke-width="3.6" stroke-linecap="round"/>
<line x1="942.2" y1="696.2" x2="942.2" y2="711.8" stroke-width="3.6"/>
<line x1="937" y1="696.2" x2="947.4" y2="696.2" stroke-width="3.6" stroke-linecap="round"/>
<line x1="937" y1="711.8" x2="947.4" y2="711.8" stroke-width="3.6" stroke-linecap="round"/>
<line x1="993.4" y1="708" x2="993.4" y2="721.8" stroke-width="3.6"/>
<line x1="988.2" y1="708" x2="998.6" y2="708" stroke-width="3.6" stroke-linecap="round"/>
<line x1="988.2" y1="721.8" x2="998.6" y2="721.8" stroke-width="3.6" stroke-linecap="round"/>
<line x1="690" y1="882.9" x2="690" y2="895" stroke-width="3.6"/>
<line x1="684.8" y1="882.9" x2="695.2" y2="882.9" stroke-width="3.6" stroke-linecap="round"/>
<line x1="684.8" y1="895" x2="695.2" y2="895" stroke-width="3.6" stroke-linecap="round"/>
<line x1="740.8" y1="866" x2="740.8" y2="880.3" stroke-width="3.6"/>
<line x1="735.6" y1="866" x2="746" y2="866" stroke-width="3.6" stroke-linecap="round"/>
<line x1="735.6" y1="880.3" x2="746" y2="880.3" stroke-width="3.6" stroke-linecap="round"/>
<line x1="791.3" y1="855.8" x2="791.3" y2="870.2" stroke-width="3.6"/>
<line x1="786.1" y1="855.8" x2="796.5" y2="855.8" stroke-width="3.6" stroke-linecap="round"/>
<line x1="786.1" y1="870.2" x2="796.5" y2="870.2" stroke-width="3.6" stroke-linecap="round"/>
<line x1="842.2" y1="862" x2="842.2" y2="878.3" stroke-width="3.6"/>
<line x1="837" y1="862" x2="847.4" y2="862" stroke-width="3.6" stroke-linecap="round"/>
<line x1="837" y1="878.3" x2="847.4" y2="878.3" stroke-width="3.6" stroke-linecap="round"/>
<line x1="892.7" y1="866.4" x2="892.7" y2="881.9" stroke-width="3.6"/>
<line x1="887.5" y1="866.4" x2="897.9" y2="866.4" stroke-width="3.6" stroke-linecap="round"/>
<line x1="887.5" y1="881.9" x2="897.9" y2="881.9" stroke-width="3.6" stroke-linecap="round"/>
<line x1="942.2" y1="836" x2="942.2" y2="854.1" stroke-width="3.6"/>
<line x1="937" y1="836" x2="947.4" y2="836" stroke-width="3.6" stroke-linecap="round"/>
<line x1="937" y1="854.1" x2="947.4" y2="854.1" stroke-width="3.6" stroke-linecap="round"/>
<line x1="993.4" y1="848.5" x2="993.4" y2="865.3" stroke-width="3.6"/>
<line x1="988.2" y1="848.5" x2="998.6" y2="848.5" stroke-width="3.6" stroke-linecap="round"/>
<line x1="988.2" y1="865.3" x2="998.6" y2="865.3" stroke-width="3.6" stroke-linecap="round"/>
<ellipse cx="639.5" cy="857" rx="4.7" ry="4.4"/>
<ellipse cx="690" cy="772" rx="4.7" ry="4.4"/>
<ellipse cx="740.8" cy="740.6" rx="4.7" ry="4.4"/>
<ellipse cx="791.3" cy="728.3" rx="4.7" ry="4.4"/>
<ellipse cx="842.2" cy="735" rx="4.7" ry="4.4"/>
<ellipse cx="892.7" cy="732.5" rx="4.7" ry="4.4"/>
<ellipse cx="942.2" cy="704" rx="4.7" ry="4.4"/>
<ellipse cx="993.4" cy="715" rx="4.7" ry="4.4"/>
<rect x="634.7" y="852.55" width="9.6" height="8.9"/>
<rect x="685.2" y="884.55" width="9.6" height="8.9"/>
<rect x="736" y="868.75" width="9.6" height="8.9"/>
<rect x="786.5" y="858.45" width="9.6" height="8.9"/>
<rect x="837.4" y="864.95" width="9.6" height="8.9"/>
<rect x="887.9" y="869.65" width="9.6" height="8.9"/>
<rect x="937.4" y="839.95" width="9.6" height="8.9"/>
<rect x="988.6" y="851.95" width="9.6" height="8.9"/>
<text class="S" transform="translate(746.31 663.75) scale(0.2569 0.2270)">JC3F1/J</text>
<text class="S" transform="translate(570.4 898.64) rotate(-90) scale(0.2009 0.2660)">Body weight gain</text>
<text class="S" text-anchor="end" transform="translate(116.8 963.6) rotate(-45)" style="font-size:17.8px">8</text>
<text class="S" text-anchor="end" transform="translate(166.9 963.6) rotate(-45)" style="font-size:17.8px">10</text>
<text class="S" text-anchor="end" transform="translate(218 963.6) rotate(-45)" style="font-size:17.8px">12</text>
<text class="S" text-anchor="end" transform="translate(268.4 963.6) rotate(-45)" style="font-size:17.8px">14</text>
<text class="S" text-anchor="end" transform="translate(319 963.6) rotate(-45)" style="font-size:17.8px">16</text>
<text class="S" text-anchor="end" transform="translate(369.4 963.6) rotate(-45)" style="font-size:17.8px">18</text>
<text class="S" text-anchor="end" transform="translate(419.4 963.6) rotate(-45)" style="font-size:17.8px">20</text>
<text class="S" text-anchor="end" transform="translate(470.3 963.6) rotate(-45)" style="font-size:17.8px">22</text>
<text class="S" text-anchor="end" transform="translate(645.1 963.6) rotate(-45)" style="font-size:17.8px">8</text>
<text class="S" text-anchor="end" transform="translate(696 963.6) rotate(-45)" style="font-size:17.8px">10</text>
<text class="S" text-anchor="end" transform="translate(746.4 963.6) rotate(-45)" style="font-size:17.8px">12</text>
<text class="S" text-anchor="end" transform="translate(797.3 963.6) rotate(-45)" style="font-size:17.8px">14</text>
<text class="S" text-anchor="end" transform="translate(847.6 963.6) rotate(-45)" style="font-size:17.8px">16</text>
<text class="S" text-anchor="end" transform="translate(898.2 963.6) rotate(-45)" style="font-size:17.8px">18</text>
<text class="S" text-anchor="end" transform="translate(948.1 963.6) rotate(-45)" style="font-size:17.8px">20</text>
<text class="S" text-anchor="end" transform="translate(998.2 963.6) rotate(-45)" style="font-size:17.8px">22</text>
<text class="S" transform="translate(244.18 998) scale(0.2102 0.2166)">W</text>
<text class="S" transform="translate(266.64 997.8) scale(0.2192 0.2029)">eeks</text>
<text class="S" transform="translate(773.28 998) scale(0.2092 0.2151)">W</text>
<text class="S" transform="translate(795.79 997.8) scale(0.2070 0.2015)">eeks</text>
<text class="R" transform="translate(5.07 22.87) scale(0.2337 0.2492)">25% CR</text>
<text class="R" transform="translate(526.31 28.57) scale(0.2349 0.2521)">25% CR</text>
<text class="R" transform="translate(383.84 36.77) scale(0.2365 0.2331)">Switch to</text>
<text class="R" transform="translate(391.18 65.49) scale(0.2328 0.2344)">42% CR</text>
<text class="R" transform="translate(906.24 70.56) scale(0.2368 0.2445)">Switch to</text>
<text class="R" transform="translate(913.68 98.38) scale(0.2323 0.2448)">42% CR</text>
<line x1="108.9" y1="35" x2="108.9" y2="916" stroke-width="5.6"/>
<polyline points="98.8,899.2 108.9,915.5 119,899.2" stroke-width="6" stroke-linecap="round" stroke-linejoin="miter" stroke-miterlimit="10"/>
<line x1="630.4" y1="41" x2="630.4" y2="921" stroke-width="5.6"/>
<polyline points="620.4,904.7 630.4,921 640.6,904.7" stroke-width="5.8" stroke-linecap="round" stroke-linejoin="miter" stroke-miterlimit="10"/>
<path d="M368.7 42.7 H311.2 V84" stroke-width="5.6" stroke-linejoin="miter"/>
<polyline points="301.2,68.2 311.2,85 321.4,68.2" stroke-width="5.6" stroke-linecap="round" stroke-linejoin="miter" stroke-miterlimit="10"/>
<path d="M893.1 83.35 H833.7 V122" stroke-width="5.4" stroke-linejoin="miter"/>
<polyline points="824.2,107.3 833.7,123 843.4,107.3" stroke-width="5.4" stroke-linecap="round" stroke-linejoin="miter" stroke-miterlimit="10"/>
</svg></body></html>
